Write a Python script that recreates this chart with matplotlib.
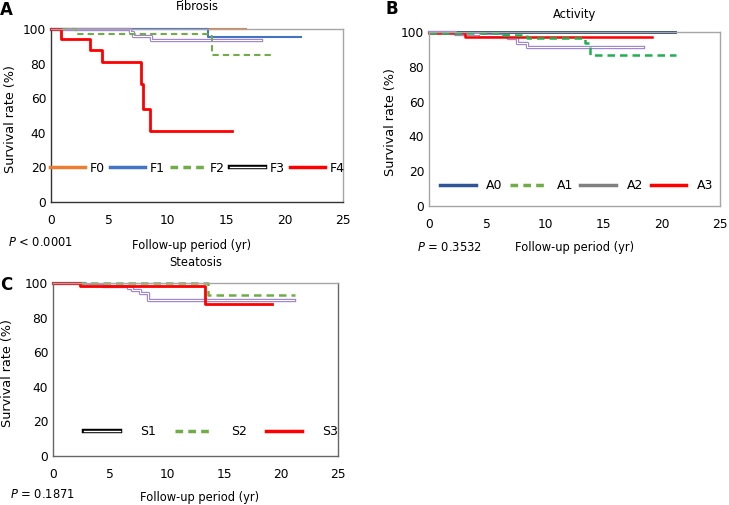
import matplotlib
matplotlib.use('Agg')
import matplotlib.pyplot as plt
from matplotlib.lines import Line2D

plt.rcParams['font.family'] = 'DejaVu Sans'
plt.rcParams['font.size'] = 8.5

# Fibrosis (panel A)
f0_t = [0, 16.7];                              f0_s = [100, 100]
f1_t = [0, 13.4, 21.4];                        f1_s = [100, 95.5, 95.5]
f2_t = [0, 2.1, 13.6, 13.8, 19.2];             f2_s = [100, 97, 96, 85, 85]
f3_t = [0, 6.8, 7.0, 8.6, 18.0];               f3_s = [100, 98, 96, 93.5, 93.5]
f4_t = [0, 0.85, 3.3, 4.4, 7.7, 7.85, 8.45, 15.5]
f4_s = [100, 94, 88, 81, 68, 54, 41, 41]

# Activity (panel B)
a0_t = [0, 21.1];                              a0_s = [100, 100]
a1_t = [0, 6.4, 8.4, 13.4, 13.8, 21.2];        a1_s = [99.3, 98.5, 96.5, 93.5, 87, 87]
a2_t = [0, 2.2, 4.4, 6.8, 7.6, 8.4, 18.4];     a2_s = [100, 99, 98, 96.5, 93.7, 91.4, 91.4]
a3_t = [0, 3.1, 19.2];                         a3_s = [99.5, 97.3, 97.3]

# Steatosis (panel C)
s1_t = [0, 2.8, 4.3, 6.6, 6.9, 7.6, 8.3, 21.1]
s1_s = [100, 99, 98, 97, 96, 94, 90, 90]
s2_t = [0, 13.6, 21.2];                        s2_s = [100, 93, 93]
s3_t = [0, 2.4, 13.3, 19.2];                   s3_s = [100, 98, 88, 88]

xticks = [0, 5, 10, 15, 20, 25]
yticks = [0, 20, 40, 60, 80, 100]

ORANGE = '#ed7d31'
BLUE = '#4472c4'
GREEN = '#70ad47'
RED = '#ff0000'
NAVY = '#1f3864'
GRAY = '#808080'
PURPLE = '#9e7fd0'

W, H = 729, 505
fig = plt.figure(figsize=(W / 100, H / 100), dpi=100)


def box(l, r, t, b):
    return [l / W, (H - b) / H, (r - l) / W, (b - t) / H]


def setup(ax, title, tpad, letter, lpos, pval, ppos, xlpos, ylx):
    ax.set_xlim(0, 25)
    ax.set_ylim(0, 100)
    ax.set_xticks(xticks)
    ax.set_yticks(yticks)
    ax.tick_params(axis='x', length=0, pad=9, labelsize=8.8)
    ax.tick_params(axis='y', length=0, pad=3.5, labelsize=8.8)
    for sp in ax.spines.values():
        sp.set_color('#a6a6a6')
        sp.set_linewidth(1)
    ax.set_ylabel('Survival rate (%)', fontsize=9.2)
    ax.yaxis.set_label_coords(ylx, 0.48)
    ax.set_title(title, fontsize=8.3, pad=tpad)
    ax.text(lpos[0], lpos[1], letter, transform=ax.transAxes, fontsize=12,
            fontweight='bold', va='center', ha='left')
    ax.text(ppos[0], ppos[1], pval, transform=ax.transAxes, fontsize=8.3,
            va='center', ha='left')
    ax.text(xlpos[0], xlpos[1], 'Follow-up period (yr)', transform=ax.transAxes,
            fontsize=8.3, va='center', ha='center')


def dbl(ax, t, s, color):
    ax.step(t, s, where='post', color=color, lw=2.4, clip_on=False)
    ax.step(t, s, where='post', color='white', lw=0.8, clip_on=False)


def dbl_handle(color):
    return (Line2D([], [], color=color, lw=3.2), Line2D([], [], color='white', lw=1.0))


# ---- A ----
ax = fig.add_axes(box(51, 343, 29, 202))
setup(ax, 'Fibrosis', 14, 'A', (-0.175, 1.11), '$P$ < 0.0001', (-0.148, -0.235),
      (0.48, -0.25), -0.116)
ax.spines['left'].set_color('#333333')
ax.spines['bottom'].set_color('#333333')
ax.step(f0_t, f0_s, where='post', color=ORANGE, lw=1.5, clip_on=False)
ax.step(f1_t, f1_s, where='post', color=BLUE, lw=1.5, clip_on=False)
dbl(ax, f3_t, f3_s, PURPLE)
ax.step(f2_t, f2_s, where='post', color=GREEN, lw=1.5, ls=(0, (3, 2)), clip_on=False)
ax.step(f4_t, f4_s, where='post', color=RED, lw=2, clip_on=False)
hA = [Line2D([], [], color=ORANGE, lw=2.5), Line2D([], [], color=BLUE, lw=2.5),
      Line2D([], [], color=GREEN, lw=2.5, ls=(0, (2.2, 1.5))), dbl_handle('black'),
      Line2D([], [], color=RED, lw=2.5)]
ax.legend(hA, ['F0', 'F1', 'F2', 'F3', 'F4'], ncol=5, frameon=False,
          loc='center left', bbox_to_anchor=(-0.005, 0.195), handlelength=2.8,
          handletextpad=0.4, columnspacing=0.4, borderpad=0, borderaxespad=0,
          fontsize=9)

# ---- B ----
ax = fig.add_axes(box(429, 720, 32, 206))
setup(ax, 'Activity', 10, 'B', (-0.15, 1.13), '$P$ = 0.3532', (-0.04, -0.236),
      (0.5, -0.24), -0.11)
ax.step(a0_t, a0_s, where='post', color=NAVY, lw=2, clip_on=False)
dbl(ax, a2_t, a2_s, PURPLE)
ax.step(a3_t, a3_s, where='post', color=RED, lw=1.8, clip_on=False)
ax.step(a1_t, a1_s, where='post', color='#1fb050', lw=1.8, ls=(0, (3, 2)), clip_on=False)
hB = [Line2D([], [], color='#2f5597', lw=2.5),
      Line2D([], [], color=GREEN, lw=2.5, ls=(0, (2.2, 1.5))),
      Line2D([], [], color=GRAY, lw=2.5), Line2D([], [], color=RED, lw=2.5)]
ax.legend(hB, ['A0', 'A1', 'A2', 'A3'], ncol=4, frameon=False,
          loc='center left', bbox_to_anchor=(0.038, 0.115), handlelength=2.85,
          handletextpad=0.85, columnspacing=0.6, borderpad=0, borderaxespad=0,
          fontsize=9)

# ---- C ----
ax = fig.add_axes(box(53, 338, 283, 456))
setup(ax, 'Steatosis', 12, 'C', (-0.185, 0.99), '$P$ = 0.1871', (-0.15, -0.225),
      (0.515, -0.237), -0.137)
ax.spines['left'].set_color('#666666')
ax.spines['right'].set_color('#666666')
ax.spines['bottom'].set_color('#666666')
dbl(ax, s1_t, s1_s, PURPLE)
ax.step(s2_t, s2_s, where='post', color=GREEN, lw=1.8, ls=(0, (3, 2)), clip_on=False)
ax.step(s3_t, s3_s, where='post', color=RED, lw=2, clip_on=False)
hC = [dbl_handle('black'), Line2D([], [], color=GREEN, lw=2.5, ls=(0, (2.2, 1.5))),
      Line2D([], [], color=RED, lw=2.5)]
ax.legend(hC, ['S1', 'S2', 'S3'], ncol=3, frameon=False,
          loc='center left', bbox_to_anchor=(0.109, 0.139), handlelength=2.9,
          handletextpad=1.6, columnspacing=1.5, borderpad=0, borderaxespad=0,
          fontsize=9)

fig.savefig('out.png', dpi=100)
